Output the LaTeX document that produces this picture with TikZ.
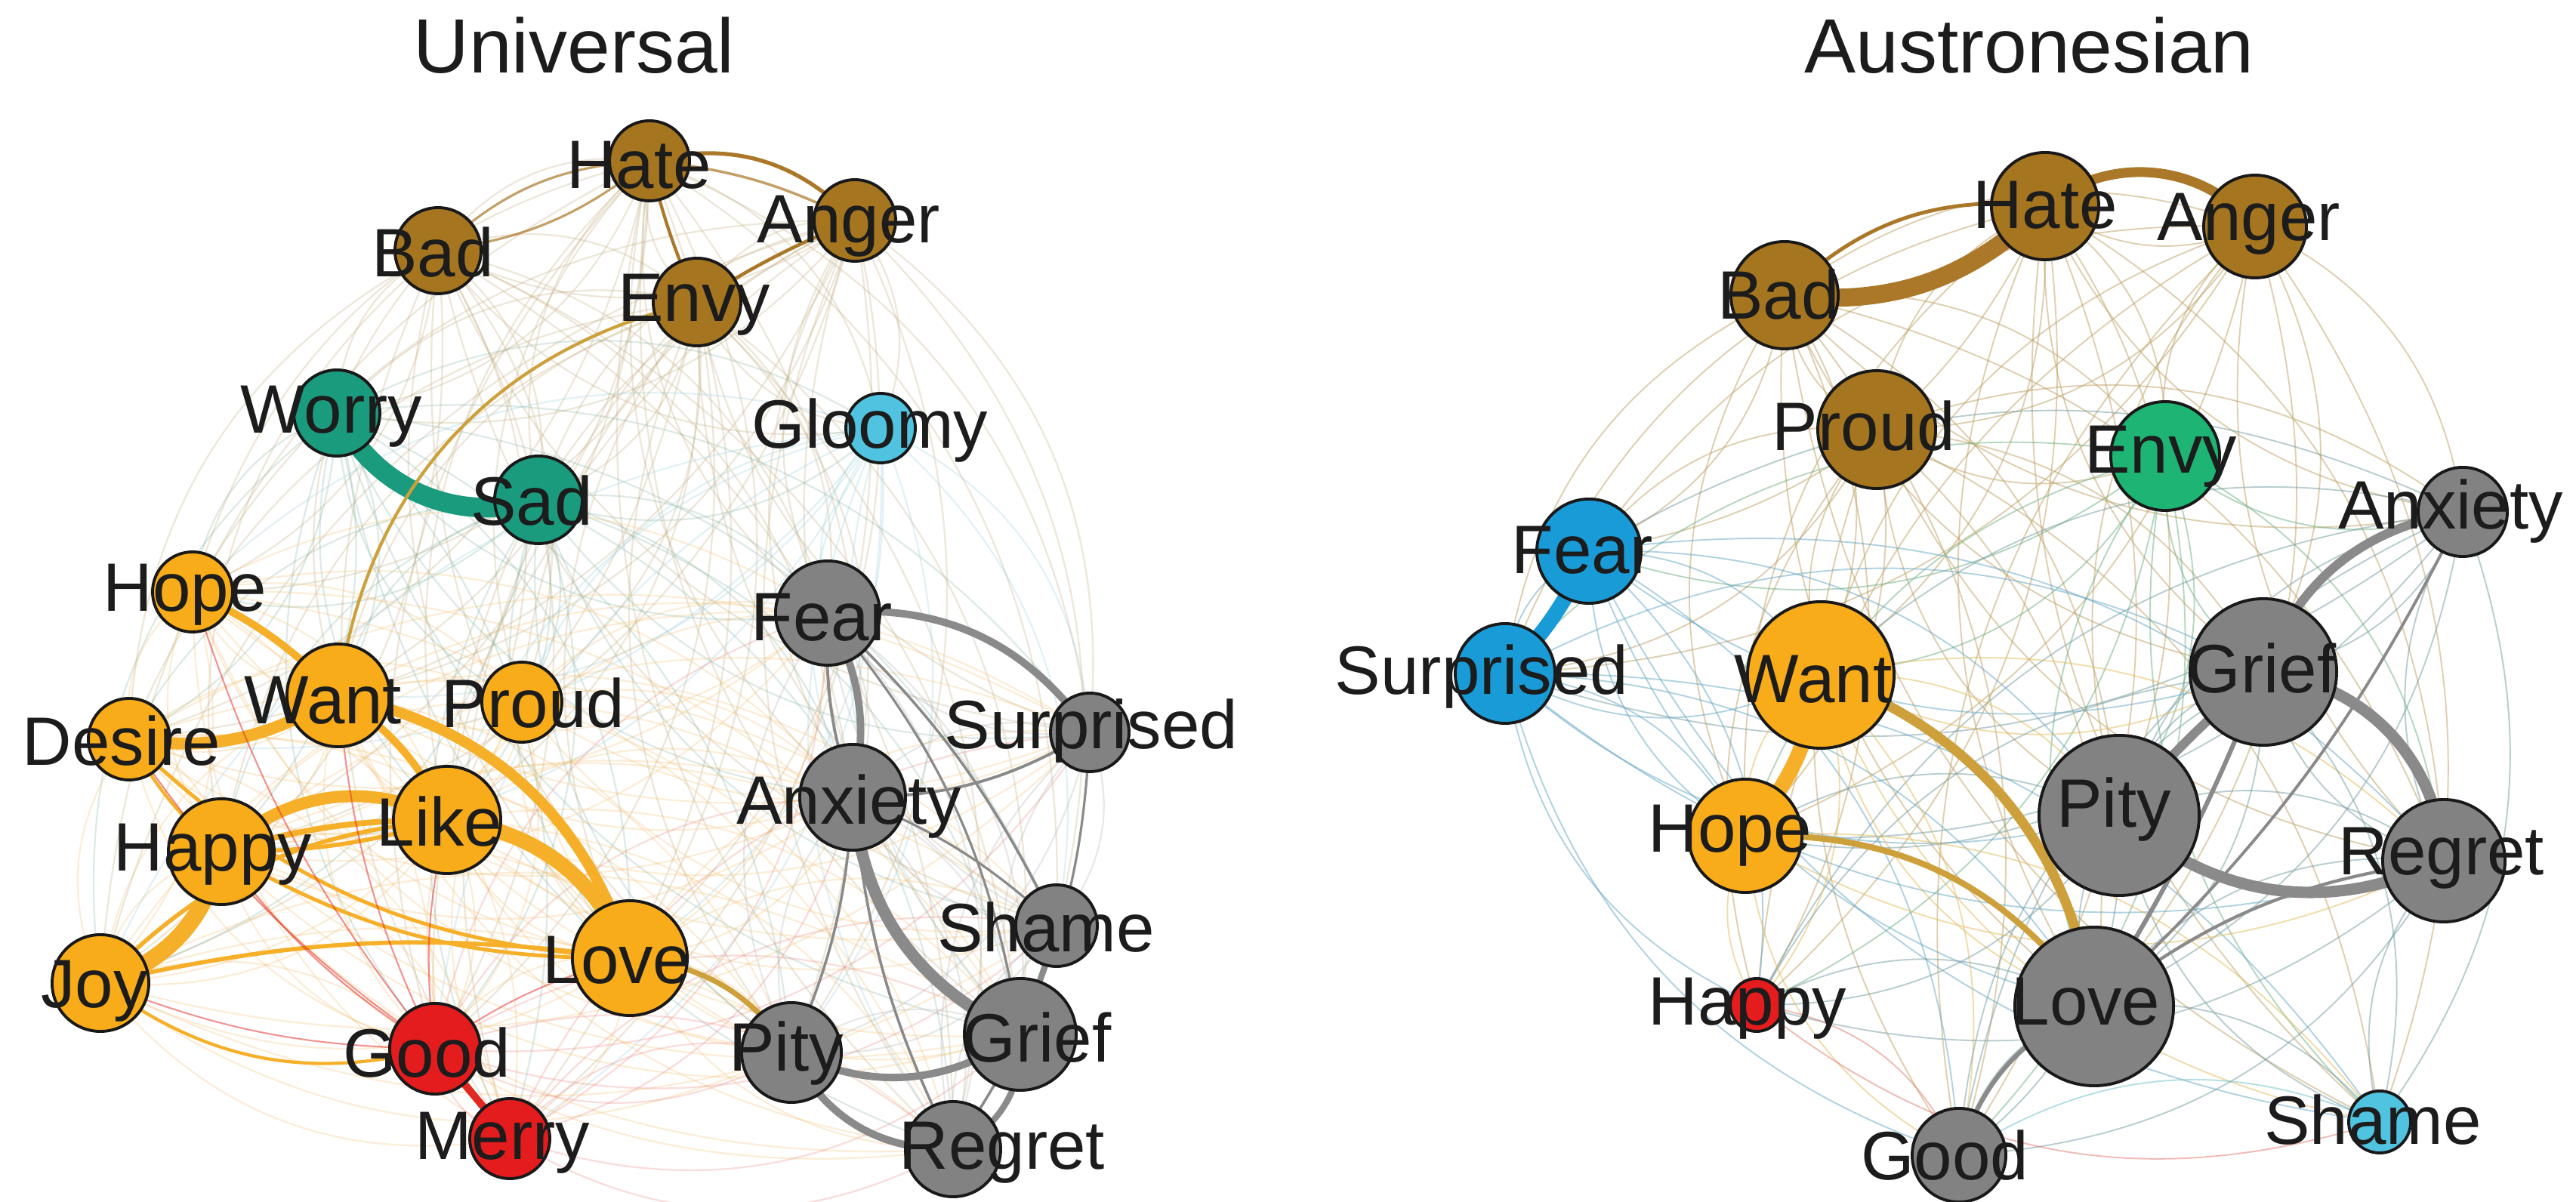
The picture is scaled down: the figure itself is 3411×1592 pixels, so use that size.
\documentclass[tikz,border=0pt]{standalone}
\usepackage{fontspec}
\setmainfont{Liberation Sans}
\pgfdeclarelayer{background}
\pgfsetlayers{background,main}
% node fills
\definecolor{cBrown}{RGB}{165,117,32}
\definecolor{cTeal}{RGB}{27,155,125}
\definecolor{cCyan}{RGB}{80,195,225}
\definecolor{cOrange}{RGB}{248,172,25}
\definecolor{cRed}{RGB}{228,28,30}
\definecolor{cGray}{RGB}{130,130,130}
\definecolor{cBlue}{RGB}{25,155,215}
\definecolor{cGreen}{RGB}{30,180,115}
\definecolor{cLine}{RGB}{25,25,25}
\definecolor{cText}{RGB}{28,28,28}
% edge colours
\definecolor{eOrange}{RGB}{246,175,40}
\definecolor{eBrown}{RGB}{170,120,40}
\definecolor{eGold}{RGB}{205,160,60}
\definecolor{eGray}{RGB}{138,138,138}
\definecolor{eRed}{RGB}{225,40,35}
% haze colours
\definecolor{hlB}{RGB}{185,160,110}
\definecolor{hlT}{RGB}{120,170,150}
\definecolor{hlC}{RGB}{140,200,215}
\definecolor{hlO}{RGB}{240,185,100}
\definecolor{hlR}{RGB}{230,120,110}
\definecolor{hlG}{RGB}{165,165,165}
\definecolor{hrB}{RGB}{190,160,100}
\definecolor{hrN}{RGB}{110,175,130}
\definecolor{hrG}{RGB}{115,155,160}
\definecolor{hrU}{RGB}{100,165,195}
\definecolor{hrO}{RGB}{225,185,90}
\definecolor{hrR}{RGB}{225,120,110}
\definecolor{hrC}{RGB}{110,190,200}
\newcommand\labfont{\fontsize{25.8}{30}\selectfont}
\newcommand\titfont{\fontsize{29}{34}\selectfont}
\tikzset{
  nd/.style={circle, draw=cLine, line width=1.1pt, inner sep=0pt, outer sep=0pt},
  lab/.style={font=\labfont, text=cText, inner sep=0pt, anchor=base},
  tit/.style={font=\titfont, text=cText, inner sep=0pt, anchor=base},
  lhaze/.style={line width=0.65pt, opacity=0.25},
  rhaze/.style={line width=0.55pt, opacity=0.5},
  eo/.style={draw=eOrange},
  eb/.style={draw=eBrown},
  eg/.style={draw=eGray},
  et/.style={draw=cTeal},
  er/.style={draw=eRed},
  eu/.style={draw=cBlue},
  egold/.style={draw=eGold},
}
\begin{document}
\begin{tikzpicture}[x=0.01cm,y=0.01cm]
\useasboundingbox (0,0) rectangle (3411,-1592);

% ---------------- titles
\node[tit] (tUniversal) at (760,-97) {Universal};
\node[tit] (tAustronesian) at (2687,-97) {Austronesian};

% ---------------- left nodes
\node[nd, fill=cBrown, minimum size=1.06cm] (LHate) at (860,-213) {};
\node[nd, fill=cBrown, minimum size=1.14cm] (LBad) at (580,-332) {};
\node[nd, fill=cBrown, minimum size=1.08cm] (LAnger) at (1132,-292) {};
\node[nd, fill=cBrown, minimum size=1.16cm] (LEnvy) at (923,-400) {};
\node[nd, fill=cTeal, minimum size=1.14cm] (LWorry) at (446,-547) {};
\node[nd, fill=cTeal, minimum size=1.16cm] (LSad) at (713,-662) {};
\node[nd, fill=cCyan, minimum size=0.92cm] (LGloomy) at (1166,-567) {};
\node[nd, fill=cOrange, minimum size=1.06cm] (LHope) at (255,-784) {};
\node[nd, fill=cOrange, minimum size=1.36cm] (LWant) at (448,-921) {};
\node[nd, fill=cOrange, minimum size=1.06cm] (LProud) at (691,-930) {};
\node[nd, fill=cOrange, minimum size=1.08cm] (LDesire) at (171,-979) {};
\node[nd, fill=cOrange, minimum size=1.42cm] (LLike) at (592,-1086) {};
\node[nd, fill=cOrange, minimum size=1.40cm] (LHappy) at (293,-1128) {};
\node[nd, fill=cOrange, minimum size=1.28cm] (LJoy) at (133,-1302) {};
\node[nd, fill=cOrange, minimum size=1.52cm] (LLove) at (834,-1269) {};
\node[nd, fill=cRed, minimum size=1.20cm] (LGood) at (576,-1389) {};
\node[nd, fill=cRed, minimum size=1.06cm] (LMerry) at (675,-1508) {};
\node[nd, fill=cGray, minimum size=1.38cm] (LFear) at (1096,-812) {};
\node[nd, fill=cGray, minimum size=1.04cm] (LSurprised) at (1443,-970) {};
\node[nd, fill=cGray, minimum size=1.40cm] (LAnxiety) at (1129,-1056) {};
\node[nd, fill=cGray, minimum size=1.08cm] (LShame) at (1399,-1226) {};
\node[nd, fill=cGray, minimum size=1.48cm] (LGrief) at (1351,-1370) {};
\node[nd, fill=cGray, minimum size=1.32cm] (LPity) at (1048,-1394) {};
\node[nd, fill=cGray, minimum size=1.26cm] (LRegret) at (1262,-1522) {};

% ---------------- right nodes
\node[nd, fill=cBrown, minimum size=1.42cm] (RHate) at (2708,-273) {};
\node[nd, fill=cBrown, minimum size=1.36cm] (RAnger) at (2986,-300) {};
\node[nd, fill=cBrown, minimum size=1.42cm] (RBad) at (2363,-391) {};
\node[nd, fill=cBrown, minimum size=1.56cm] (RProud) at (2485,-569) {};
\node[nd, fill=cGreen, minimum size=1.44cm] (REnvy) at (2867,-604) {};
\node[nd, fill=cGray, minimum size=1.18cm] (RAnxiety) at (3261,-678) {};
\node[nd, fill=cBlue, minimum size=1.38cm] (RFear) at (2104,-730) {};
\node[nd, fill=cBlue, minimum size=1.32cm] (RSurprised) at (1993,-892) {};
\node[nd, fill=cOrange, minimum size=1.94cm] (RWant) at (2411,-894) {};
\node[nd, fill=cGray, minimum size=1.94cm] (RGrief) at (2997,-890) {};
\node[nd, fill=cGray, minimum size=2.12cm] (RPity) at (2806,-1080) {};
\node[nd, fill=cOrange, minimum size=1.50cm] (RHope) at (2311,-1107) {};
\node[nd, fill=cGray, minimum size=1.62cm] (RRegret) at (3236,-1140) {};
\node[nd, fill=cGray, minimum size=2.10cm] (RLove) at (2773,-1333) {};
\node[nd, fill=cRed, minimum size=0.70cm] (RHappy) at (2326,-1331) {};
\node[nd, fill=cCyan, minimum size=0.82cm] (RShame) at (3151,-1486) {};
\node[nd, fill=cGray, minimum size=1.24cm] (RGood) at (2594,-1530) {};

% ---------------- labels
\node[lab] (tLHate) at (846,-250) {Hate};
\node[lab] (tLBad) at (573,-367) {Bad};
\node[lab] (tLAnger) at (1124,-322) {Anger};
\node[lab] (tLEnvy) at (919,-426) {Envy};
\node[lab] (tLWorry) at (439,-574) {Worry};
\node[lab] (tLSad) at (704,-696) {Sad};
\node[lab] (tLGloomy) at (1152,-594) {Gloomy};
\node[lab] (tLHope) at (245,-810) {Hope};
\node[lab] (tLWant) at (428,-959) {Want};
\node[lab] (tLProud) at (706,-964) {Proud};
\node[lab] (tLDesire) at (161,-1014) {Desire};
\node[lab] (tLLike) at (582,-1121) {Like};
\node[lab] (tLHappy) at (282,-1154) {Happy};
\node[lab] (tLJoy) at (125,-1334) {Joy};
\node[lab] (tLLove) at (817,-1303) {Love};
\node[lab] (tLGood) at (565,-1426) {Good};
\node[lab] (tLMerry) at (665,-1535) {Merry};
\node[lab] (tLFear) at (1088,-849) {Fear};
\node[lab] (tLSurprised) at (1445,-992) {Surprised};
\node[lab] (tLAnxiety) at (1124,-1092) {Anxiety};
\node[lab] (tLShame) at (1385,-1261) {Shame};
\node[lab] (tLGrief) at (1373,-1406) {Grief};
\node[lab] (tLPity) at (1041,-1418) {Pity};
\node[lab] (tLRegret) at (1327,-1548) {Regret};

\node[lab] (tRHate) at (2708,-303) {Hate};
\node[lab] (tRAnger) at (2978,-319) {Anger};
\node[lab] (tRBad) at (2355,-423) {Bad};
\node[lab] (tRProud) at (2468,-597) {Proud};
\node[lab] (tREnvy) at (2861,-627) {Envy};
\node[lab] (tRAnxiety) at (3245,-701) {Anxiety};
\node[lab] (tRFear) at (2095,-760) {Fear};
\node[lab] (tRSurprised) at (1962,-920) {Surprised};
\node[lab] (tRWant) at (2401,-931) {Want};
\node[lab] (tRGrief) at (2995,-918) {Grief};
\node[lab] (tRPity) at (2799,-1096) {Pity};
\node[lab] (tRHope) at (2291,-1129) {Hope};
\node[lab] (tRRegret) at (3233,-1159) {Regret};
\node[lab] (tRLove) at (2762,-1357) {Love};
\node[lab] (tRHappy) at (2314,-1357) {Happy};
\node[lab] (tRShame) at (3142,-1515) {Shame};
\node[lab] (tRGood) at (2575,-1562) {Good};

% ---------------- edges (behind nodes)
\begin{pgfonlayer}{background}
\def\LL{LHate/hlB,LBad/hlB,LAnger/hlB,LEnvy/hlB,LWorry/hlT,LSad/hlT,LGloomy/hlC,LHope/hlO,LWant/hlO,LProud/hlO,LDesire/hlO,LLike/hlO,LHappy/hlO,LJoy/hlO,LLove/hlO,LGood/hlR,LMerry/hlR,LFear/hlG,LSurprised/hlG,LAnxiety/hlG,LShame/hlG,LGrief/hlG,LPity/hlG,LRegret/hlG}
\foreach \na/\ca [count=\i] in \LL {
  \foreach \nb/\cb [count=\j] in \LL {
    \ifnum\j>\i\relax
      \pgfmathsetmacro\ang{ifthenelse(mod(\i+\j,2)==0,30,-30)}
      \draw[lhaze, draw=\ca] (\na.center) to[bend left=\ang] (\nb.center);
    \fi
  }
}
\def\RL{RHate/hrB,RAnger/hrB,RBad/hrB,RProud/hrB,REnvy/hrN,RAnxiety/hrG,RFear/hrU,RSurprised/hrU,RWant/hrO,RGrief/hrG,RPity/hrG,RHope/hrO,RRegret/hrG,RLove/hrG,RHappy/hrR,RShame/hrC,RGood/hrG}
\foreach \na/\ca [count=\i] in \RL {
  \foreach \nb/\cb [count=\j] in \RL {
    \ifnum\j>\i\relax
      \pgfmathsetmacro\ang{ifthenelse(mod(\i+\j,2)==0,28,-28)}
      \draw[rhaze, draw=\ca] (\na.center) to[bend left=\ang] (\nb.center);
    \fi
  }
}

% left: strong edges
\draw[et, line width=7.4pt] (LWorry.center) to[bend right=40] (LSad.center);
\draw[eo, line width=6.3pt] (LJoy.center) to[bend right=30] (LHappy.center);
\draw[eo, line width=4.5pt] (LDesire.center) to[bend right=20] (LWant.center);
\draw[eo, line width=4.5pt] (LHappy.center) to[bend left=35] (LLike.center);
\draw[eo, line width=2.2pt] (LHappy.center) to[bend left=8] (LLike.center);
\draw[eo, line width=1.6pt] (LHappy.center) to[bend right=8] (LLike.center);
\draw[eo, line width=5.7pt] (LLike.center) to[bend left=30] (LLove.center);
\draw[eo, line width=4pt] (LWant.center) to[bend left=30] (LLove.center);
\draw[eo, line width=2.8pt] (LHope.center) to[bend left=10] (LWant.center);
\draw[eo, line width=2.8pt] (LWant.center) to[bend left=15] (LLike.center);
\draw[eo, line width=1.6pt] (LJoy.center) to[bend left=20] (LLike.center);
\draw[eo, line width=1.6pt] (LJoy.center) to[bend left=10] (LLove.center);
\draw[eo, line width=1.2pt] (LJoy.center) to[bend right=25] (LGood.center);
\draw[eo, line width=1.4pt] (LDesire.center) to[bend right=20] (LLove.center);
\draw[eo, line width=1.4pt] (LHappy.center) to[bend right=15] (LLove.center);
\draw[eo, line width=1.2pt] (LDesire.center) to[bend right=10] (LHappy.center);
\draw[er, line width=2.8pt] (LGood.center) -- (LMerry.center);
\foreach \n in {LHappy,LLike,LLove,LJoy,LWant,LDesire,LHope}
  \draw[er, line width=0.6pt, opacity=0.5] (LGood.center) to[bend left=10] (\n.center);
\draw[egold, line width=2pt] (LLove.center) to[bend left=25] (LPity.center);
\draw[eb, draw=eGold, line width=1.2pt] (LEnvy.center) to[bend right=35] (LWant.center);
\draw[eb, line width=1.5pt] (LHate.center) to[bend left=30] (LAnger.center);
\draw[eb, line width=1pt, opacity=.7] (LHate.center) to[bend left=10] (LAnger.center);
\draw[eb, line width=1.2pt] (LHate.center) to[bend right=5] (LEnvy.center);
\draw[eb, line width=1.3pt] (LEnvy.center) to[bend left=5] (LAnger.center);
\draw[eb, line width=0.9pt, opacity=.7] (LBad.center) to[bend left=20] (LHate.center);
\draw[eb, line width=0.9pt, opacity=.7] (LBad.center) to[bend right=15] (LHate.center);
% left: grey cluster
\draw[eg, line width=2.8pt] (LFear.center) to[bend left=30] (LSurprised.center);
\draw[eg, line width=2.8pt] (LFear.center) to[bend left=20] (LAnxiety.center);
\draw[eg, line width=1.1pt] (LFear.center) to[bend right=10] (LAnxiety.center);
\draw[eg, line width=4.5pt] (LAnxiety.center) to[bend right=30] (LGrief.center);
\draw[eg, line width=2.8pt] (LPity.center) to[bend right=30] (LGrief.center);
\draw[eg, line width=2.8pt] (LPity.center) to[bend right=32] (LRegret.center);
\draw[eg, line width=2.3pt] (LGrief.center) to[bend left=35] (LRegret.center);
\draw[eg, line width=1pt] (LFear.center) to[bend left=10] (LShame.center);
\draw[eg, line width=0.9pt] (LFear.center) to[bend left=15] (LGrief.center);
\draw[eg, line width=1.1pt] (LSurprised.center) to[bend left=15] (LAnxiety.center);
\draw[eg, line width=0.9pt] (LSurprised.center) to[bend left=10] (LGrief.center);
\draw[eg, line width=1pt] (LAnxiety.center) to[bend left=10] (LPity.center);
\draw[eg, line width=1pt] (LAnxiety.center) to[bend right=10] (LRegret.center);
\draw[eg, line width=1pt] (LShame.center) -- (LGrief.center);
\draw[eg, line width=0.9pt] (LAnxiety.center) to[bend left=10] (LShame.center);
\draw[eg, line width=1pt] (LRegret.center) to[bend right=10] (LShame.center);

% right: strong edges
\draw[eb, line width=6.8pt] (RBad.center) to[bend right=25] (RHate.center);
\draw[eb, line width=1.4pt] (RBad.center) to[bend left=25] (RHate.center);
\draw[eb, line width=3.7pt] (RHate.center) to[bend left=45] (RAnger.center);
\draw[eu, line width=5.7pt] (RFear.center) to[bend left=10] (RSurprised.center);
\draw[eo, line width=5.7pt] (RWant.center) to[bend left=15] (RHope.center);
\draw[egold, line width=3.7pt] (RWant.center) to[bend left=30] (RLove.center);
\draw[egold, line width=2.3pt] (RHope.center) to[bend left=28] (RLove.center);
\draw[eg, line width=3.4pt] (RAnxiety.center) to[bend right=30] (RGrief.center);
\draw[eg, line width=4.3pt] (RGrief.center) to[bend left=40] (RRegret.center);
\draw[eg, line width=4.3pt] (RPity.center) to[bend right=33] (RRegret.center);
\draw[eg, line width=3.4pt] (RPity.center) to[bend left=5] (RGrief.center);
\draw[eg, line width=1.7pt] (RLove.center) to[bend right=5] (RGrief.center);
\draw[eg, line width=1.2pt] (RLove.center) to[bend left=15] (RRegret.center);
\draw[eg, line width=1.7pt] (RLove.center) to[bend right=25] (RGood.center);
\draw[eg, line width=1.1pt] (RAnxiety.center) to[bend left=10] (RLove.center);
\end{pgfonlayer}
\end{tikzpicture}
\end{document}
